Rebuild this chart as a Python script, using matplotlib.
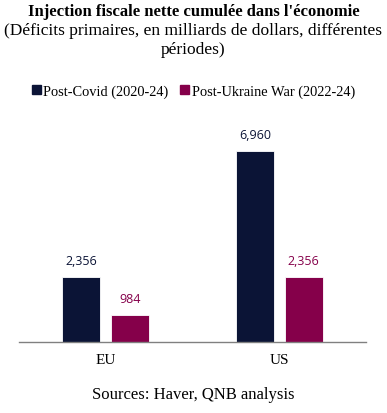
import matplotlib.pyplot as plt
import matplotlib.patches as mpatches
import numpy as np

regions = ['EU', 'US']
post_covid = [2356, 6960]
post_ukraine = [984, 2356]
series_names = ['Post-Covid (2020-24)', 'Post-Ukraine War (2022-24)']
navy = '#0b1436'
maroon = '#85004a'

serif = ['Liberation Serif', 'DejaVu Serif']
sans = ['Open Sans', 'DejaVu Sans']

fig = plt.figure(figsize=(3.87, 4.14), dpi=100)
ax = fig.add_axes([0.049, 0.172, 0.897, 0.49])

x = np.arange(len(regions))
w = 0.219
off = 0.141
b1 = ax.bar(x - off, post_covid, w, color=navy, edgecolor='white', linewidth=0.6)
b2 = ax.bar(x + off, post_ukraine, w, color=maroon, edgecolor='white', linewidth=0.6)

for bars, vals, c in [(b1, post_covid, navy), (b2, post_ukraine, maroon)]:
    for r, v in zip(bars, vals):
        ax.annotate(f'{v:,}', (r.get_x() + r.get_width() / 2, v), xytext=(0, 7),
                    textcoords='offset points', ha='center', va='bottom',
                    fontsize=9, color=c, family=sans)

ax.set_xlim(-0.5, 1.5)
ax.set_ylim(0, 7390)
ax.set_yticks([])
ax.set_xticks(x)
ax.set_xticklabels(regions, family=serif, fontsize=11)
ax.tick_params(axis='x', length=0, pad=8)
for s in ['top', 'right', 'left']:
    ax.spines[s].set_visible(False)
ax.spines['bottom'].set_color('#808080')
ax.spines['bottom'].set_linewidth(1.0)

fig.text(0.5, 0.972, "Injection fiscale nette cumulée dans l'économie", ha='center',
         va='center', fontsize=12, fontweight='bold', family=serif)
fig.text(0.5, 0.925, "(Déficits primaires, en milliards de dollars, différentes",
         ha='center', va='center', fontsize=12.5, family=serif)
fig.text(0.5, 0.879, "périodes)", ha='center', va='center', fontsize=12.5, family=serif)

handles = [mpatches.Patch(color=navy), mpatches.Patch(color=maroon)]
fig.legend(handles, series_names, loc='center', bbox_to_anchor=(0.5, 0.778), ncol=2,
           frameon=False, prop={'family': serif, 'size': 10.4}, handlelength=0.6,
           handleheight=0.6, handletextpad=0.2, columnspacing=0.8)

fig.text(0.5, 0.045, 'Sources: Haver, QNB analysis', ha='center', va='center',
         fontsize=12, family=serif)

fig.savefig('out.png', dpi=100)
